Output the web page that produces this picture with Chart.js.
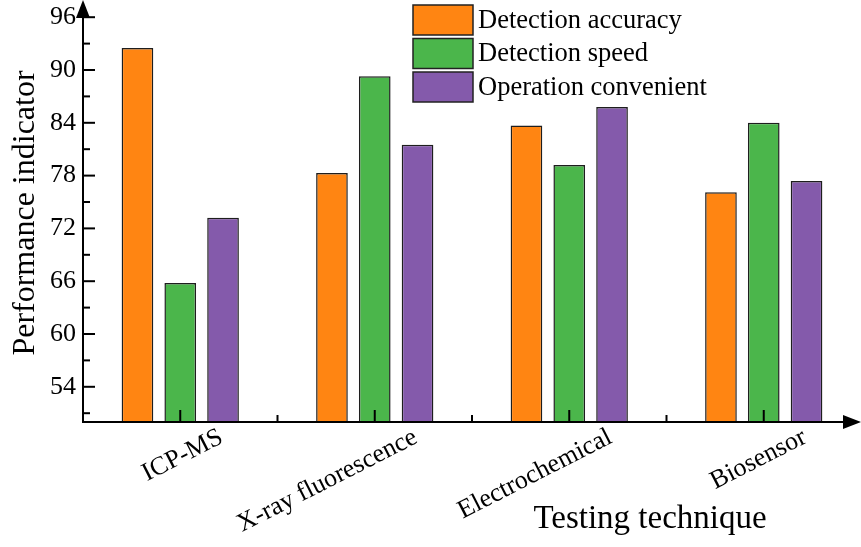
<!DOCTYPE html>
<html>
<head>
<meta charset="utf-8">
<script src="https://cdn.jsdelivr.net/npm/chart.js@4.4.0/dist/chart.umd.min.js"></script>
<style>
  body { margin: 0; background: #fff; overflow: hidden; }
</style>
</head>
<body>
<canvas id="myChart" width="861" height="547"></canvas>
<script>
// data
const techniques = ["ICP-MS", "X-ray fluorescence", "Electrochemical", "Biosensor"];
const accuracy = [92.5, 78.3, 83.7, 76.1];
const speed = [65.8, 89.3, 79.2, 84.0];
const convenience = [73.2, 81.5, 85.8, 77.4];
const yTicks = [54, 60, 66, 72, 78, 84, 90, 96];

const serif = "'Liberation Serif', 'Times New Roman', serif";

// axes, arrows, inward ticks, legend and x title
const decorations = {
  id: "decorations",
  afterDatasetsDraw(chart) {
    const ctx = chart.ctx;
    const area = chart.chartArea;
    const x = chart.scales.x;
    const y = chart.scales.y;
    ctx.save();
    ctx.strokeStyle = "#000";
    ctx.fillStyle = "#000";
    ctx.lineWidth = 2;

    // y axis line + arrow
    ctx.beginPath();
    ctx.moveTo(area.left, area.bottom);
    ctx.lineTo(area.left, 12);
    ctx.stroke();
    ctx.beginPath();
    ctx.moveTo(area.left, 0);
    ctx.lineTo(area.left - 7, 18);
    ctx.lineTo(area.left + 7, 18);
    ctx.closePath();
    ctx.fill();

    // x axis line + arrow
    ctx.beginPath();
    ctx.moveTo(area.left - 1, area.bottom);
    ctx.lineTo(850, area.bottom);
    ctx.stroke();
    ctx.beginPath();
    ctx.moveTo(861, area.bottom);
    ctx.lineTo(843, area.bottom - 7);
    ctx.lineTo(843, area.bottom + 7);
    ctx.closePath();
    ctx.fill();

    // y ticks (major + minor, inward)
    yTicks.forEach((v) => {
      const py = y.getPixelForValue(v);
      ctx.beginPath();
      ctx.moveTo(area.left, py);
      ctx.lineTo(area.left + 12, py);
      ctx.stroke();
      const pm = y.getPixelForValue(v - 3);
      ctx.beginPath();
      ctx.moveTo(area.left, pm);
      ctx.lineTo(area.left + 7, pm);
      ctx.stroke();
    });
    // x ticks
    techniques.forEach((t, i) => {
      const px = x.getPixelForValue(i);
      ctx.beginPath();
      ctx.moveTo(px, area.bottom);
      ctx.lineTo(px, area.bottom - 12);
      ctx.stroke();
      if (i < techniques.length - 1) {
        const pb = (px + x.getPixelForValue(i + 1)) / 2;
        ctx.beginPath();
        ctx.moveTo(pb, area.bottom);
        ctx.lineTo(pb, area.bottom - 7);
        ctx.stroke();
      }
    });

    // legend
    ctx.lineWidth = 1.5;
    ctx.font = "26.5px " + serif;
    ctx.textBaseline = "middle";
    ctx.textAlign = "left";
    chart.data.datasets.forEach((ds, i) => {
      const by = 5 + i * 33.5;
      ctx.fillStyle = ds.backgroundColor;
      ctx.fillRect(413, by, 60, 30);
      ctx.strokeStyle = "#222";
      ctx.strokeRect(413, by, 60, 30);
      ctx.fillStyle = "#000";
      ctx.fillText(ds.label, 478, by + 16);
    });

    // x axis title
    ctx.font = "33px " + serif;
    ctx.textAlign = "center";
    ctx.textBaseline = "alphabetic";
    ctx.fillText("Testing technique", 650, 528);
    ctx.restore();
  }
};

const data = {
  labels: techniques,
  datasets: [
    { label: "Detection accuracy", data: accuracy, backgroundColor: "#FF8512" },
    { label: "Detection speed", data: speed, backgroundColor: "#4BB64B" },
    { label: "Operation convenient", data: convenience, backgroundColor: "#845AAB" }
  ]
};
data.datasets.forEach((ds) => {
  ds.borderColor = "#1e1e1e";
  ds.borderWidth = 1.5;
  ds.categoryPercentage = 0.66;
  ds.barPercentage = 0.74;
});

const config = {
  type: "bar",
  data,
  plugins: [decorations],
  options: {
    responsive: false,
    animation: false,
    layout: { padding: { top: 4, right: 0, left: 0, bottom: 0 } },
    plugins: {
      legend: { display: false },
      tooltip: { enabled: false }
    },
    scales: {
      x: {
        grid: { display: false, drawTicks: false },
        border: { display: false },
        ticks: {
          autoSkip: false,
          minRotation: 27,
          maxRotation: 27,
          labelOffset: 41,
          padding: 0,
          color: "#000",
          font: { family: serif, size: 26 }
        },
        afterFit(scale) {
          scale.height = 125;
          scale.paddingLeft = 0;
          scale.paddingRight = 0;
        }
      },
      y: {
        min: 50,
        max: 97.5,
        grid: { display: false, drawTicks: false },
        border: { display: false },
        afterBuildTicks(scale) {
          scale.ticks = yTicks.map((v) => ({ value: v }));
        },
        ticks: {
          padding: 7,
          color: "#000",
          font: { family: serif, size: 26 }
        },
        title: {
          display: true,
          text: "Performance indicator",
          color: "#000",
          font: { family: serif, size: 32 },
          padding: { top: 6, bottom: 0 }
        },
        afterFit(scale) {
          scale.width = 83;
          scale.paddingTop = 0;
          scale.paddingBottom = 0;
        }
      }
    }
  }
};

const myChart = new Chart(document.getElementById("myChart"), config);
</script>
</body>
</html>
